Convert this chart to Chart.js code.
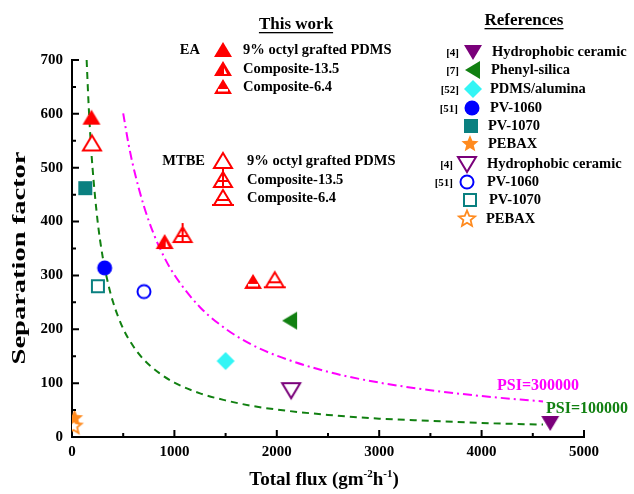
<!DOCTYPE html>
<html lang="en">
<head>
<meta charset="UTF-8">
<title>Separation factor vs total flux</title>
<script src="https://cdn.jsdelivr.net/npm/chart.js"></script>
<style>
    body { margin: 0; background: #fff; }
    #wrap { width: 634px; height: 494px; }
</style>
</head>
<body>
<div id="wrap"><canvas id="psiChart" width="634" height="494"></canvas></div>
<script>
// ---- data ----
const seriesLabels = [
    'EA 9% octyl grafted PDMS', 'EA Composite-13.5', 'EA Composite-6.4',
    'MTBE 9% octyl grafted PDMS', 'MTBE Composite-13.5', 'MTBE Composite-6.4',
    'Hydrophobic ceramic', 'Phenyl-silica', 'PDMS/alumina', 'PV-1060', 'PV-1070', 'PEBAX',
    'Hydrophobic ceramic (MTBE)', 'PV-1060 (MTBE)', 'PV-1070 (MTBE)', 'PEBAX (MTBE)'
];
const seriesMarkers = [
    'triFill', 'tri135Fill', 'tri64Fill', 'triOpen', 'tri135Open', 'tri64Open',
    'downFill', 'leftFill', 'diamond', 'circleFill', 'squareFill', 'starFill',
    'downOpen', 'circleOpen', 'squareOpen', 'starOpen'
];
const seriesFlux   = [[190], [905], [1768], [195], [1080], [1980], [4670], [2130], [1500], [319], [130], [25], [2140], [703], [253], [15]];
const seriesFactor = [[593], [362], [288], [545], [375], [291], [26], [216], [141], [314], [462], [35], [87], [270], [280], [20]];

// PSI iso-lines, points
const psi100kFlux   = [143, 160, 180, 200, 250, 300, 350, 400, 500, 600, 700, 850, 1000, 1250, 1500, 1750, 2000, 2500, 3000, 3500, 4000, 4600];
const psi100kFactor = [700, 626, 556, 501, 401, 334, 287, 251, 201, 168, 144, 119, 101, 81, 68, 58, 51, 41, 34, 30, 26, 23];
const psi300kFlux   = [500, 550, 600, 700, 800, 900, 1000, 1250, 1500, 1750, 2000, 2500, 3000, 3500, 4000, 4600];
const psi300kFactor = [601, 546, 501, 430, 376, 334, 301, 241, 201, 172, 151, 121, 101, 87, 76, 66];

const xTicks = [0, 1000, 2000, 3000, 4000, 5000];
const yTicks = [0, 100, 200, 300, 400, 500, 600, 700];

const serif = '"Liberation Serif", "Times New Roman", serif';
const RED = '#ff0000', PURPLE = '#7a007a', GREEN = '#118011', CYAN = '#33f5f5',
      BLUE = '#0000ff', TEAL = '#0a8080', ORANGE = '#ff8a1e';

// ---- marker drawing ----
function tri(ctx, cx, cy) {
    ctx.beginPath();
    ctx.moveTo(cx, cy - 8); ctx.lineTo(cx + 9, cy + 7); ctx.lineTo(cx - 9, cy + 7); ctx.closePath();
}
function starPath(ctx, cx, cy, ro, ri) {
    ctx.beginPath();
    for (let i = 0; i < 10; i++) {
        const r = i % 2 ? ri : ro;
        const a = -Math.PI / 2 + i * Math.PI / 5;
        ctx.lineTo(cx + r * Math.cos(a), cy + r * Math.sin(a));
    }
    ctx.closePath();
}
function drawMarker(ctx, type, cx, cy) {
    ctx.save();
    ctx.lineJoin = 'miter';
    ctx.lineWidth = 2;
    switch (type) {
        case 'triFill':
            tri(ctx, cx, cy); ctx.fillStyle = RED; ctx.fill(); break;
        case 'tri135Fill':
            tri(ctx, cx, cy); ctx.fillStyle = RED; ctx.fill();
            ctx.fillStyle = '#fff';
            ctx.beginPath(); ctx.moveTo(cx + 1, cy - 1); ctx.lineTo(cx + 4, cy + 5); ctx.lineTo(cx + 1, cy + 5); ctx.closePath(); ctx.fill();
            break;
        case 'tri64Fill':
            tri(ctx, cx, cy); ctx.fillStyle = RED; ctx.fill();
            ctx.fillStyle = '#fff'; ctx.fillRect(cx - 5, cy + 2, 10, 2.5); break;
        case 'triOpen':
            tri(ctx, cx, cy); ctx.fillStyle = '#fff'; ctx.fill(); ctx.strokeStyle = RED; ctx.stroke(); break;
        case 'tri135Open':
            tri(ctx, cx, cy); ctx.fillStyle = '#fff'; ctx.fill(); ctx.strokeStyle = RED; ctx.stroke();
            ctx.beginPath(); ctx.moveTo(cx, cy - 12); ctx.lineTo(cx, cy + 7);
            ctx.moveTo(cx - 5, cy + 1); ctx.lineTo(cx + 5, cy + 1); ctx.stroke(); break;
        case 'tri64Open':
            tri(ctx, cx, cy); ctx.fillStyle = '#fff'; ctx.fill(); ctx.strokeStyle = RED; ctx.stroke();
            ctx.beginPath(); ctx.moveTo(cx - 7, cy + 2); ctx.lineTo(cx + 7, cy + 2);
            ctx.moveTo(cx - 11, cy + 7); ctx.lineTo(cx + 11, cy + 7); ctx.stroke(); break;
        case 'downFill':
        case 'downOpen':
            ctx.beginPath(); ctx.moveTo(cx - 9, cy - 7); ctx.lineTo(cx + 9, cy - 7); ctx.lineTo(cx, cy + 8); ctx.closePath();
            if (type === 'downFill') { ctx.fillStyle = PURPLE; ctx.fill(); }
            else { ctx.fillStyle = '#fff'; ctx.fill(); ctx.strokeStyle = PURPLE; ctx.stroke(); }
            break;
        case 'leftFill':
            ctx.beginPath(); ctx.moveTo(cx - 8, cy); ctx.lineTo(cx + 7, cy - 9); ctx.lineTo(cx + 7, cy + 9); ctx.closePath();
            ctx.fillStyle = GREEN; ctx.fill(); break;
        case 'diamond':
            ctx.beginPath(); ctx.moveTo(cx, cy - 9); ctx.lineTo(cx + 9, cy); ctx.lineTo(cx, cy + 9); ctx.lineTo(cx - 9, cy); ctx.closePath();
            ctx.fillStyle = CYAN; ctx.fill(); break;
        case 'circleFill':
            ctx.beginPath(); ctx.arc(cx, cy, 7.5, 0, Math.PI * 2); ctx.fillStyle = BLUE; ctx.fill(); break;
        case 'circleOpen':
            ctx.beginPath(); ctx.arc(cx, cy, 6.5, 0, Math.PI * 2); ctx.fillStyle = '#fff'; ctx.fill(); ctx.strokeStyle = BLUE; ctx.stroke(); break;
        case 'squareFill':
            ctx.fillStyle = TEAL; ctx.fillRect(cx - 7, cy - 7, 14, 14); break;
        case 'squareOpen':
            ctx.fillStyle = '#fff'; ctx.fillRect(cx - 6, cy - 6, 12, 12); ctx.strokeStyle = TEAL; ctx.strokeRect(cx - 6, cy - 6, 12, 12); break;
        case 'starFill':
            starPath(ctx, cx, cy, 9, 4); ctx.fillStyle = ORANGE; ctx.fill(); break;
        case 'starOpen':
            starPath(ctx, cx, cy, 8.5, 3.8); ctx.fillStyle = '#fff'; ctx.fill(); ctx.strokeStyle = ORANGE; ctx.lineWidth = 1.8; ctx.stroke(); break;
    }
    ctx.restore();
}
function markerCanvas(type) {
    const c = document.createElement('canvas');
    c.width = 28; c.height = 28;
    drawMarker(c.getContext('2d'), type, 14, 14);
    return c;
}

// ---- datasets ----
const datasets = seriesLabels.map((label, i) => ({
    label: label,
    data: seriesFlux[i].map((x, k) => ({ x: x, y: seriesFactor[i][k] })),
    pointStyle: markerCanvas(seriesMarkers[i]),
    pointRadius: 14,
    showLine: false,
    clip: 0
}));
datasets.push({
    label: 'PSI=100000',
    data: psi100kFlux.map((x, k) => ({ x: x, y: psi100kFactor[k] })),
    showLine: true, pointRadius: 0, borderColor: GREEN, borderWidth: 2,
    borderDash: [7, 5], cubicInterpolationMode: 'monotone', clip: 0
});
datasets.push({
    label: 'PSI=300000',
    data: psi300kFlux.map((x, k) => ({ x: x, y: psi300kFactor[k] })),
    showLine: true, pointRadius: 0, borderColor: '#ff00ff', borderWidth: 2,
    borderDash: [9, 4, 2, 4], cubicInterpolationMode: 'monotone', clip: 0
});

// ---- legend rows (text, marker, citation, positions) ----
const workRows = [
    { group: 'EA',   marker: 'triFill',    text: '9% octyl grafted PDMS', y: 50 },
    { group: '',     marker: 'tri135Fill', text: 'Composite-13.5',        y: 69 },
    { group: '',     marker: 'tri64Fill',  text: 'Composite-6.4',         y: 87 },
    { group: 'MTBE', marker: 'triOpen',    text: '9% octyl grafted PDMS', y: 161 },
    { group: '',     marker: 'tri135Open', text: 'Composite-13.5',        y: 180 },
    { group: '',     marker: 'tri64Open',  text: 'Composite-6.4',         y: 198 }
];
const refRows = [
    { cite: '[4]',  marker: 'downFill',   text: 'Hydrophobic ceramic', y: 52,  mx: 473, tx: 492 },
    { cite: '[7]',  marker: 'leftFill',   text: 'Phenyl-silica',       y: 70,  mx: 473, tx: 491 },
    { cite: '[52]', marker: 'diamond',    text: 'PDMS/alumina',        y: 89,  mx: 473, tx: 490 },
    { cite: '[51]', marker: 'circleFill', text: 'PV-1060',             y: 108, mx: 472, tx: 490 },
    { cite: '',     marker: 'squareFill', text: 'PV-1070',             y: 126, mx: 471, tx: 488 },
    { cite: '',     marker: 'starFill',   text: 'PEBAX',               y: 144, mx: 470, tx: 488 },
    { cite: '[4]',  marker: 'downOpen',   text: 'Hydrophobic ceramic', y: 164, mx: 467, tx: 487 },
    { cite: '[51]', marker: 'circleOpen', text: 'PV-1060',             y: 182, mx: 467, tx: 487 },
    { cite: '',     marker: 'squareOpen', text: 'PV-1070',             y: 200, mx: 470, tx: 489 },
    { cite: '',     marker: 'starOpen',   text: 'PEBAX',               y: 219, mx: 467, tx: 486 }
];

function underlined(ctx, text, cx, y) {
    ctx.textAlign = 'center';
    ctx.textBaseline = 'alphabetic';
    ctx.fillText(text, cx, y);
    const w = ctx.measureText(text).width;
    ctx.fillRect(cx - w / 2, y + 3, w, 1.3);
}

const decorPlugin = {
    id: 'decor',
    afterDraw(chart) {
        const ctx = chart.ctx;
        const xs = chart.scales.x, ys = chart.scales.y;
        const area = chart.chartArea;
        ctx.save();
        // inward tick marks
        ctx.strokeStyle = '#000';
        ctx.lineWidth = 2;
        ctx.beginPath();
        for (let v = 500; v <= 5000; v += 500) {
            const px = xs.getPixelForValue(v);
            const len = v % 1000 === 0 ? 7 : 4;
            ctx.moveTo(px, area.bottom); ctx.lineTo(px, area.bottom - len);
        }
        for (let v = 50; v <= 700; v += 50) {
            const py = ys.getPixelForValue(v);
            const len = v % 100 === 0 ? 7 : 4;
            ctx.moveTo(area.left, py); ctx.lineTo(area.left + len, py);
        }
        ctx.stroke();

        ctx.fillStyle = '#000';
        // y axis title (stretched along its length like the source)
        ctx.save();
        ctx.translate(20, 258);
        ctx.rotate(-Math.PI / 2);
        ctx.scale(1.5, 1);
        ctx.font = 'bold 19px ' + serif;
        ctx.textAlign = 'center';
        ctx.textBaseline = 'middle';
        ctx.fillText('Separation factor', 0, 0);
        ctx.restore();

        // x axis title with superscripts
        const parts = [['Total flux (gm', false], ['-2', true], ['h', false], ['-1', true], [')', false]];
        const big = 'bold 19px ' + serif, small = 'bold 11px ' + serif;
        let total = 0;
        parts.forEach(p => { ctx.font = p[1] ? small : big; total += ctx.measureText(p[0]).width; });
        let x = 324 - total / 2;
        ctx.textAlign = 'left';
        ctx.textBaseline = 'alphabetic';
        parts.forEach(p => {
            ctx.font = p[1] ? small : big;
            ctx.fillText(p[0], x, p[1] ? 477 : 485);
            x += ctx.measureText(p[0]).width;
        });

        // PSI labels
        ctx.font = 'bold 16px ' + serif;
        ctx.textBaseline = 'middle';
        ctx.fillStyle = '#ff00ff';
        ctx.fillText('PSI=300000', 497, 386);
        ctx.fillStyle = GREEN;
        ctx.fillText('PSI=100000', 546, 409);

        // legend headings
        ctx.fillStyle = '#000';
        ctx.font = 'bold 17px ' + serif;
        underlined(ctx, 'This work', 296, 29);
        underlined(ctx, 'References', 524, 25);

        // this-work rows
        ctx.font = 'bold 14.5px ' + serif;
        ctx.textBaseline = 'middle';
        workRows.forEach(r => {
            if (r.group) {
                ctx.textAlign = 'right';
                ctx.fillText(r.group, r.group === 'EA' ? 200 : 205, r.y);
            }
            drawMarker(ctx, r.marker, 223, r.y);
            ctx.textAlign = 'left';
            ctx.fillText(r.text, r.y > 150 ? 247 : 243, r.y);
        });

        // reference rows
        refRows.forEach(r => {
            if (r.cite) {
                ctx.font = 'bold 11px ' + serif;
                ctx.textAlign = 'right';
                ctx.fillText(r.cite, r.mx - 14, r.y + 1);
            }
            drawMarker(ctx, r.marker, r.mx, r.y);
            ctx.font = 'bold 14.5px ' + serif;
            ctx.textAlign = 'left';
            ctx.fillText(r.text, r.tx, r.y);
        });
        ctx.restore();
    }
};

new Chart(document.getElementById('psiChart'), {
    type: 'scatter',
    data: { datasets: datasets },
    options: {
        responsive: false,
        animation: false,
        layout: { padding: { top: 60, right: 50, left: 0, bottom: 0 } },
        plugins: { legend: { display: false }, tooltip: { enabled: false } },
        scales: {
            x: {
                type: 'linear', min: 0, max: 5000,
                afterBuildTicks: s => { s.ticks = xTicks.map(v => ({ value: v })); },
                afterFit: s => { s.height = 57; },
                ticks: { color: '#000', padding: 6, maxRotation: 0, callback: v => String(v), font: { family: serif, size: 15, weight: 'bold' } },
                grid: { display: false, drawTicks: false },
                border: { display: true, color: '#000', width: 2 }
            },
            y: {
                type: 'linear', min: 0, max: 700,
                afterBuildTicks: s => { s.ticks = yTicks.map(v => ({ value: v })); },
                afterFit: s => { s.width = 72; },
                ticks: { color: '#000', padding: 9, callback: v => String(v), font: { family: serif, size: 15, weight: 'bold' } },
                grid: { display: false, drawTicks: false },
                border: { display: true, color: '#000', width: 2 }
            }
        }
    },
    plugins: [decorPlugin]
});
</script>
</body>
</html>
